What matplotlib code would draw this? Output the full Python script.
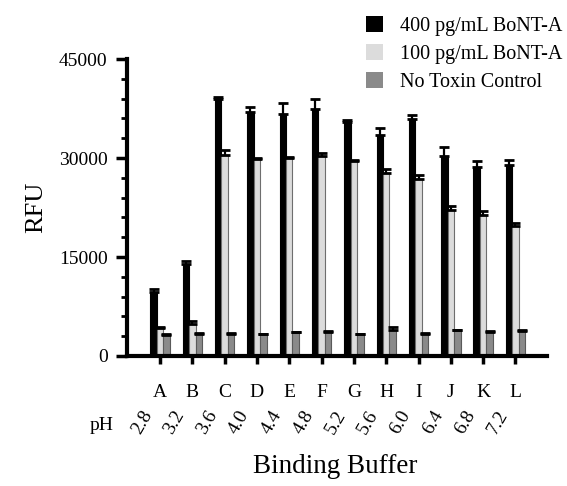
import numpy as np
import matplotlib
matplotlib.use("Agg")
import matplotlib.pyplot as plt
from matplotlib.patches import Patch
from matplotlib.transforms import blended_transform_factory

buffers = ["A", "B", "C", "D", "E", "F", "G", "H", "I", "J", "K", "L"]
ph_values = ["2.8", "3.2", "3.6", "4.0", "4.4", "4.8", "5.2", "5.6", "6.0", "6.4", "6.8", "7.2"]
series_names = ["400 pg/mL BoNT-A", "100 pg/mL BoNT-A", "No Toxin Control"]
bont400 = [9700, 14000, 39000, 37000, 36700, 37400, 35400, 33500, 35900, 30300, 28700, 29000]
bont400_err = [450, 350, 250, 800, 1600, 1600, 400, 1100, 600, 1300, 800, 700]
bont100 = [4300, 4900, 30400, 29800, 30000, 30300, 29500, 27800, 26800, 22200, 21300, 19700]
bont100_err = [150, 350, 800, 150, 150, 500, 150, 500, 700, 600, 600, 400]
notoxin = [3200, 3400, 3400, 3300, 3600, 3700, 3300, 4000, 3400, 3900, 3700, 3800]
notoxin_err = [100, 100, 100, 100, 100, 100, 100, 400, 100, 100, 100, 100]

plt.rcParams['font.family'] = ['Liberation Serif', 'DejaVu Serif']

fig = plt.figure(figsize=(5.67, 4.86), dpi=100)
ax = fig.add_axes([0.224, 0.2675, 0.741, 0.611])

x = np.arange(len(buffers))
w = 0.2
colors = ["#000000", "#dcdcdc", "#8a8a8a"]
edges = ["#000000", "#6e6e6e", "#5a5a5a"]
data = [(bont400, bont400_err), (bont100, bont100_err), (notoxin, notoxin_err)]
for i, ((vals, errs), c, ec) in enumerate(zip(data, colors, edges)):
    xs = x + (i - 1) * w
    ax.bar(xs, vals, width=w, color=c, edgecolor=ec, linewidth=0.8, zorder=2)
    ax.errorbar(xs, vals, yerr=[np.zeros(len(vals)), errs], fmt='none', ecolor='black',
                elinewidth=1.6, capsize=3.3, capthick=2, zorder=3)

ax.set_xlim(-1.02, 11.98)
ax.set_ylim(0, 45000)
ax.set_yticks([0, 15000, 30000, 45000])
ax.set_yticks(np.arange(0, 45001, 3000), minor=True)
ax.set_yticklabels(["0", "15000", "30000", "45000"], fontsize=14)
ax.set_xticks(x)
ax.set_xticklabels(buffers, fontsize=14)
ax.tick_params(axis='y', which='major', length=8, width=2.5, pad=6)
ax.tick_params(axis='y', which='minor', length=4, width=2)
ax.tick_params(axis='x', which='major', length=6, width=2.5, pad=14)

for s in ['top', 'right']:
    ax.spines[s].set_visible(False)
ax.spines['left'].set_linewidth(3)
ax.spines['bottom'].set_linewidth(3)

trans = blended_transform_factory(ax.transData, fig.transFigure)
for xi, ph in zip(x, ph_values):
    ax.text(xi - 0.55, 1 - 422 / 486, ph, transform=trans, rotation=60,
            ha='center', va='center', fontsize=14)
fig.text(102 / 567, 1 - 425 / 486, "pH", ha='center', va='center', fontsize=14)

ax.set_ylabel("RFU", fontsize=19, labelpad=8)
fig.text(335 / 567, 1 - 466 / 486, "Binding Buffer", ha='center', va='center', fontsize=19.5)

handles = [Patch(facecolor=c, edgecolor='none') for c in colors]
leg = fig.legend(handles, series_names, loc='upper left', bbox_to_anchor=(366 / 567, 1 - 16 / 486),
                 frameon=False, fontsize=14.5, handlelength=0.85, handleheight=0.85,
                 handletextpad=0.85, labelspacing=0.4, borderaxespad=0, borderpad=0)

fig.savefig("out.png", dpi=100)
